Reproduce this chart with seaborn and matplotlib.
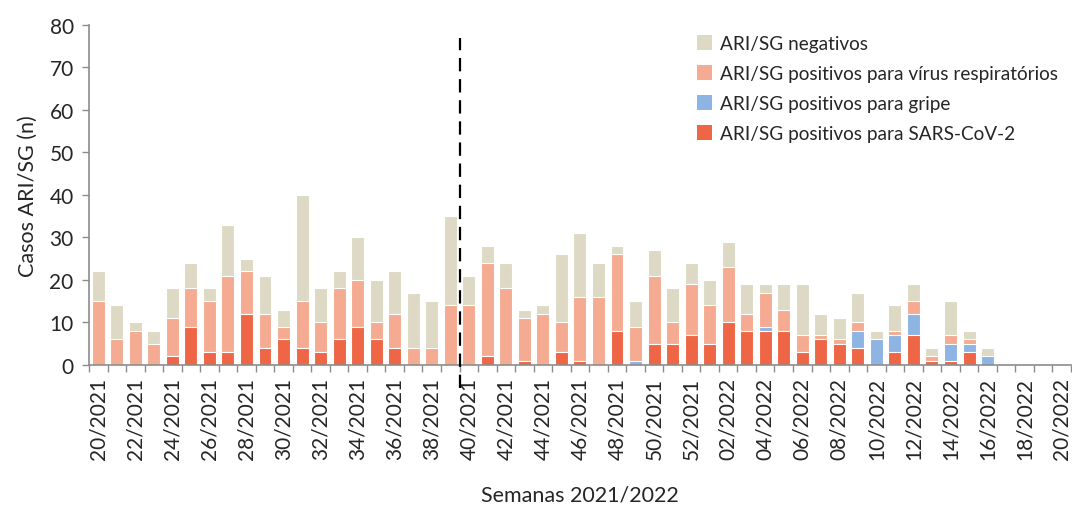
import matplotlib
matplotlib.use("Agg")
import matplotlib.pyplot as plt
from matplotlib.patches import Patch
from matplotlib.ticker import FixedLocator
import seaborn as sns
import pandas as pd
import numpy as np

weeks = [f"{w:02d}/2021" for w in range(20, 53)] + [f"{w:02d}/2022" for w in range(1, 21)]

# total ARI/SG cases per week
total = [22, 14, 10, 8, 18, 24, 18, 33, 25, 21, 13, 40, 18, 22, 30, 20, 22, 17, 15, 35,
         21, 28, 24, 13, 14, 26, 31, 24, 28, 15, 27, 18, 24, 20, 29, 19, 19, 19, 19, 12,
         11, 17, 8, 14, 19, 4, 15, 8, 4, 0, 0, 0, 0]
# positives for respiratory viruses (includes influenza and SARS-CoV-2)
positives = [15, 6, 8, 5, 11, 18, 15, 21, 22, 12, 9, 15, 10, 18, 20, 10, 12, 4, 4, 14,
             14, 24, 18, 11, 12, 10, 16, 16, 26, 9, 21, 10, 19, 14, 23, 12, 17, 13, 7, 7,
             6, 10, 6, 8, 15, 2, 7, 6, 2, 0, 0, 0, 0]
# positives for influenza
flu = [0, 0, 0, 0, 0, 0, 0, 0, 0, 0, 0, 0, 0, 0, 0, 0, 0, 0, 0, 0,
       0, 0, 0, 0, 0, 0, 0, 0, 0, 1, 0, 0, 0, 0, 0, 0, 1, 0, 0, 0,
       0, 4, 6, 4, 5, 0, 4, 2, 2, 0, 0, 0, 0]
# positives for SARS-CoV-2
covid = [0, 0, 0, 0, 2, 9, 3, 3, 12, 4, 6, 4, 3, 6, 9, 6, 4, 0, 0, 0,
         0, 2, 0, 1, 0, 3, 1, 0, 8, 0, 5, 5, 7, 5, 10, 8, 8, 8, 3, 6,
         5, 4, 0, 3, 7, 1, 1, 3, 0, 0, 0, 0, 0]

labels = ["ARI/SG negativos", "ARI/SG positivos para vírus respiratórios",
          "ARI/SG positivos para gripe", "ARI/SG positivos para SARS-CoV-2"]
colors = ["#DDD9C4", "#F5AB92", "#8EB4E3", "#EF6646"]

df = pd.DataFrame({
    "week": weeks,
    "total": total,
    "positives": positives,
    "covid_flu": np.array(covid) + np.array(flu),
    "covid": covid,
})

sns.set_style("white")
plt.rcParams["font.family"] = ["Lato", "DejaVu Sans"]

fig = plt.figure(figsize=(10.72, 5.06), dpi=100)
ax = fig.add_axes([0.083, 0.277, 0.916, 0.672])

for col, c in zip(["total", "positives", "covid_flu", "covid"], colors):
    sns.barplot(data=df, x="week", y=col, order=weeks, color=c, saturation=1,
                width=0.7, edgecolor="white", linewidth=0.8, ax=ax, zorder=2)

n = len(weeks)
ax.set_xlim(-0.5, n - 0.5)
ax.set_ylim(0, 80)
ax.set_yticks(range(0, 81, 10))
ax.tick_params(axis="y", labelsize=15, length=5, color="#8C8C8C", width=1, direction="out",
               left=True, pad=6)

ax.set_xticks(range(0, n, 2))
ax.set_xticklabels([weeks[i] for i in range(0, n, 2)], rotation=90, fontsize=15)
ax.tick_params(axis="x", which="major", length=0, pad=9)
ax.xaxis.set_minor_locator(FixedLocator(np.arange(-0.5, n, 1)))
ax.tick_params(axis="x", which="minor", length=5, color="#8C8C8C", width=1, direction="out", bottom=True)

for s in ["top", "right"]:
    ax.spines[s].set_visible(False)
for s in ["left", "bottom"]:
    ax.spines[s].set_color("#8C8C8C")
    ax.spines[s].set_linewidth(1.2)

ax.set_ylabel("Casos ARI/SG (n)", fontsize=15.5, labelpad=8)
ax.set_xlabel("Semanas 2021/2022", fontsize=15.5, labelpad=18)

ax.plot([19.5, 19.5], [-5.5, 77], color="black", lw=1.6, ls=(0, (6, 3.5)), clip_on=False, zorder=5)

handles = [Patch(facecolor=c, edgecolor="none") for c in colors]
ax.legend(handles, labels, loc="upper left", bbox_to_anchor=(0.602, 1.02), frameon=False,
          fontsize=13.7, handlelength=0.8, handleheight=0.8, handletextpad=0.4, labelspacing=0.68)

fig.savefig("out.png", dpi=100)
